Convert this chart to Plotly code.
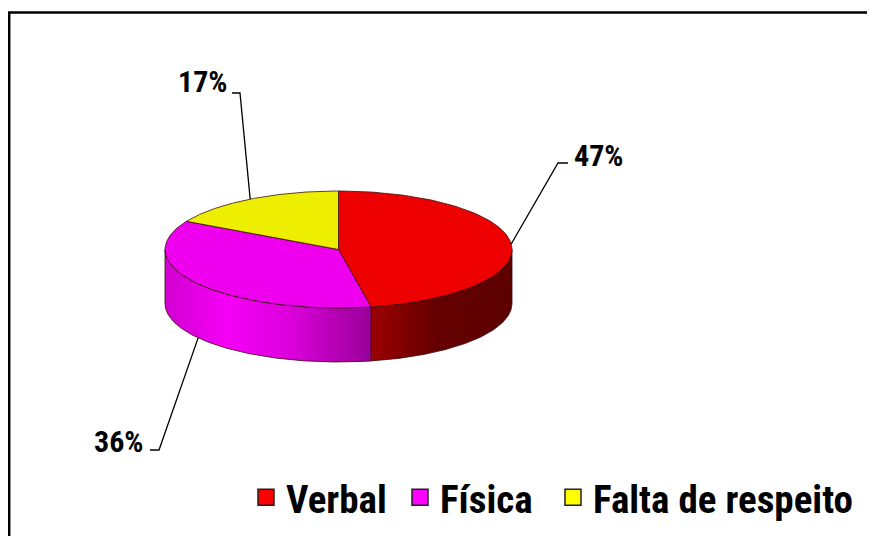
import numpy as np
import plotly.graph_objects as go

# ---- data ----
categories = ["Verbal", "Física", "Falta de respeito"]
values = [47, 36, 17]

# ---- style / layout constants ----
top_colors = ["#ee0000", "#ee00ee", "#eeee00"]
legend_colors = ["#ff0000", "#ff00ff", "#ffff00"]
side_scales = [
    [[0, "#9c0000"], [0.45, "#660000"], [1, "#5c0000"]],
    [[0, "#d000d0"], [0.3, "#f600f6"], [0.6, "#dd00dd"], [1, "#980098"]],
    [[0, "#b0b000"], [1, "#707000"]],
]
OFF = 8                      # page body margin of the browser
VW, VH = 875, 536            # viewport
W, H = VW - OFF, VH - OFF    # figure size
cx, cy, rx, ry, depth = 338.5, 249.5, 173.5, 58.5, 54
# label elbow points and line ends (layout positions, viewport pixels)
elbows = [(558, 163), (159, 450), (240, 93)]
ends = [(568, 163), (150, 450), (232, 93)]
text_pos = [(572, 155, "left"), (145, 441, "right"), (229, 81, "right")]
legend_left = [246, 400, 553]   # viewport px of each legend entry
FONT = "Liberation Sans Narrow, Arial Narrow, Roboto Condensed, Liberation Sans, Arial"

total = float(sum(values))
bounds = [90.0]
for v in values:
    bounds.append(bounds[-1] - 360.0 * v / total)


def ell(t_deg, dy=0.0):
    t = np.radians(t_deg)
    return cx + rx * np.cos(t), cy - ry * np.sin(t) + dy


fig = go.Figure()

# side faces (visible lower half)
for i in range(len(values)):
    a_start, a_end = bounds[i], bounds[i + 1]
    for k in (0, -360):
        lo, hi = max(a_end, -180 + k), min(a_start, 0 + k)
        if hi - lo <= 0:
            continue
        ts = np.linspace(hi, lo, 120)
        xt, yt = ell(ts)
        xb, yb = ell(ts[::-1], depth)
        xs = np.concatenate([xt, xb, xt[:1]])
        ys = np.concatenate([yt, yb, yt[:1]])
        fig.add_trace(go.Scatter(
            x=xs, y=ys, mode="lines", fill="toself",
            fillgradient=dict(type="horizontal", colorscale=side_scales[i]),
            line=dict(color="#3a0a0a", width=0.8),
            showlegend=False, hoverinfo="skip"))

# top faces
for i in range(len(values)):
    ts = np.linspace(bounds[i], bounds[i + 1], 160)
    xa, ya = ell(ts)
    xs = np.concatenate([[cx], xa, [cx]])
    ys = np.concatenate([[cy], ya, [cy]])
    fig.add_trace(go.Scatter(
        x=xs, y=ys, mode="lines", fill="toself", fillcolor=top_colors[i],
        line=dict(color="#3a1010", width=0.8),
        showlegend=False, hoverinfo="skip"))

# leader lines and percentage labels
for i in range(len(values)):
    mid = (bounds[i] + bounds[i + 1]) / 2.0
    dy = depth if np.sin(np.radians(mid)) < 0 else 0.0
    sx, sy = ell(mid, dy)
    fig.add_trace(go.Scatter(
        x=[sx, elbows[i][0], ends[i][0]], y=[sy, elbows[i][1], ends[i][1]],
        mode="lines", line=dict(color="black", width=1.3),
        showlegend=False, hoverinfo="skip"))
    tx, ty, anc = text_pos[i]
    fig.add_annotation(
        x=tx, y=ty, xref="x", yref="y", showarrow=False,
        text=f"<b>{round(100 * values[i] / total)}%</b>",
        xanchor=anc, yanchor="middle",
        font=dict(family=FONT, size=30, color="black"))

# legend entries (one legend box per entry for exact spacing)
legend_names = ["legend", "legend2", "legend3"]
for i, c in enumerate(categories):
    fig.add_trace(go.Scatter(
        x=[None], y=[None], mode="markers", name=f"<b>{c}</b>",
        legend=legend_names[i],
        marker=dict(symbol="square", size=16, color=legend_colors[i],
                    line=dict(color="#202020", width=1.5))))

# outer frame
fig.add_shape(type="rect", xref="paper", yref="paper",
              x0=1.2 / W, x1=1.01, y0=-0.01, y1=1 - (12.5 - OFF) / H,
              line=dict(color="black", width=2.5))

leg_common = dict(orientation="h", xanchor="left",
                  y=(VH - 497.5) / H, yanchor="middle",
                  itemwidth=30,
                  font=dict(family=FONT, size=39, color="black"),
                  bgcolor="rgba(0,0,0,0)")

fig.update_layout(
    width=W, height=H,
    margin=dict(l=0, r=0, t=0, b=0),
    paper_bgcolor="white", plot_bgcolor="white",
    xaxis=dict(range=[OFF, VW], visible=False, fixedrange=True),
    yaxis=dict(range=[VH, OFF], visible=False, fixedrange=True),
    showlegend=True,
    legend=dict(x=(legend_left[0] - OFF) / W, **leg_common),
    legend2=dict(x=(legend_left[1] - OFF) / W, **leg_common),
    legend3=dict(x=(legend_left[2] - OFF) / W, **leg_common),
)

fig.write_html("out.html")
